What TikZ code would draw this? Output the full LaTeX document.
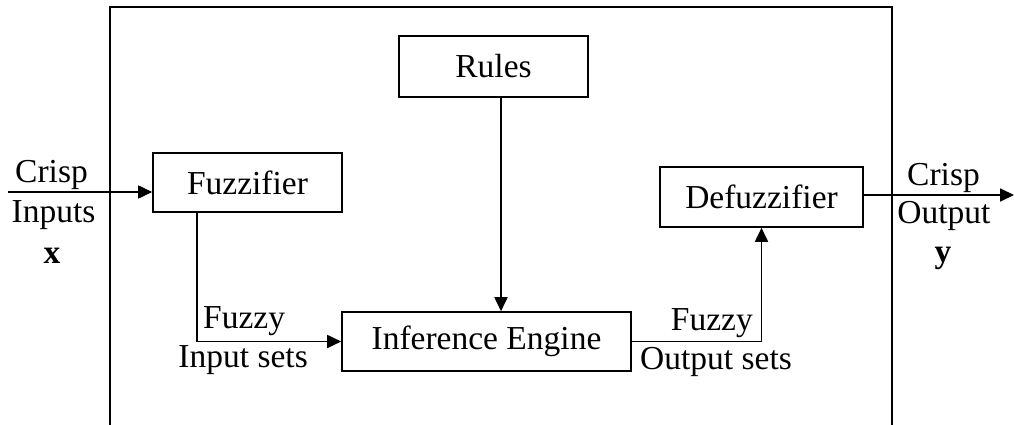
\documentclass[tikz,border=0pt]{standalone}
\usepackage{fontspec}
\setmainfont{Liberation Serif}
\usetikzlibrary{arrows.meta}
\begin{document}
\begin{tikzpicture}[x=1pt,y=-1pt,
  box/.style={draw,line width=1.6pt,inner sep=0pt,align=center},
  arr/.style={line width=1.8pt,-{Triangle[length=14pt,width=13pt]}},
  lbl/.style={inner sep=0pt},
  font=\fontsize{33.5}{40}\selectfont]
\useasboundingbox (0,0) rectangle (1014,425);
% outer frame (open at the bottom)
\draw[line width=1.8pt] (110,425) -- (110,7) -- (892,7) -- (892,425);
% blocks
\node[box,minimum width=189pt,minimum height=61pt] (rules) at (493.5,66.5) {Rules};
\node[box,minimum width=189pt,minimum height=59pt] (fuzz) at (247.5,182.5) {Fuzzifier};
\node[box,minimum width=203pt,minimum height=60pt] (defuzz) at (761.5,197) {Defuzzifier};
\node[box,minimum width=289pt,minimum height=59pt] (inf) at (486.5,341.5) {Inference Engine};
% helper coordinates
\coordinate (inS) at (8,192);
\coordinate (outE) at (1014,195);
\coordinate (fl) at (197,341.5);
\coordinate (rx) at (501,0);
% connectors
\draw[arr] (inS) -- (inS -| fuzz.west);
\draw[arr] (fl |- fuzz.south) -- (fl) -- (inf.west);
\draw[arr] (rules.south -| rx) -- (inf.north -| rx);
\draw[arr] (inf.east) -- (inf.east -| defuzz.south) -- (defuzz.south);
\draw[arr] (defuzz.east |- outE) -- (outE);
% labels
\node[lbl,anchor=base] (crispin) at (51.5,182) {Crisp};
\node[lbl,anchor=base] (inputs) at (53.5,222) {Inputs};
\node[lbl,anchor=base] (xv) at (52,263) {\textbf{x}};
\node[lbl,anchor=base west] (fzin) at (203,328) {Fuzzy};
\node[lbl,anchor=base east] (insets) at (308,367) {Input sets};
\node[lbl,anchor=base east] (fzout) at (753,330) {Fuzzy};
\node[lbl,anchor=base west] (outsets) at (640,369) {Output sets};
\node[lbl,anchor=base] (crispout) at (943.5,185) {Crisp};
\node[lbl,anchor=base] (output) at (944,223) {Output};
\node[lbl,anchor=base] (yv) at (943,262) {\textbf{y}};
\end{tikzpicture}
\end{document}
